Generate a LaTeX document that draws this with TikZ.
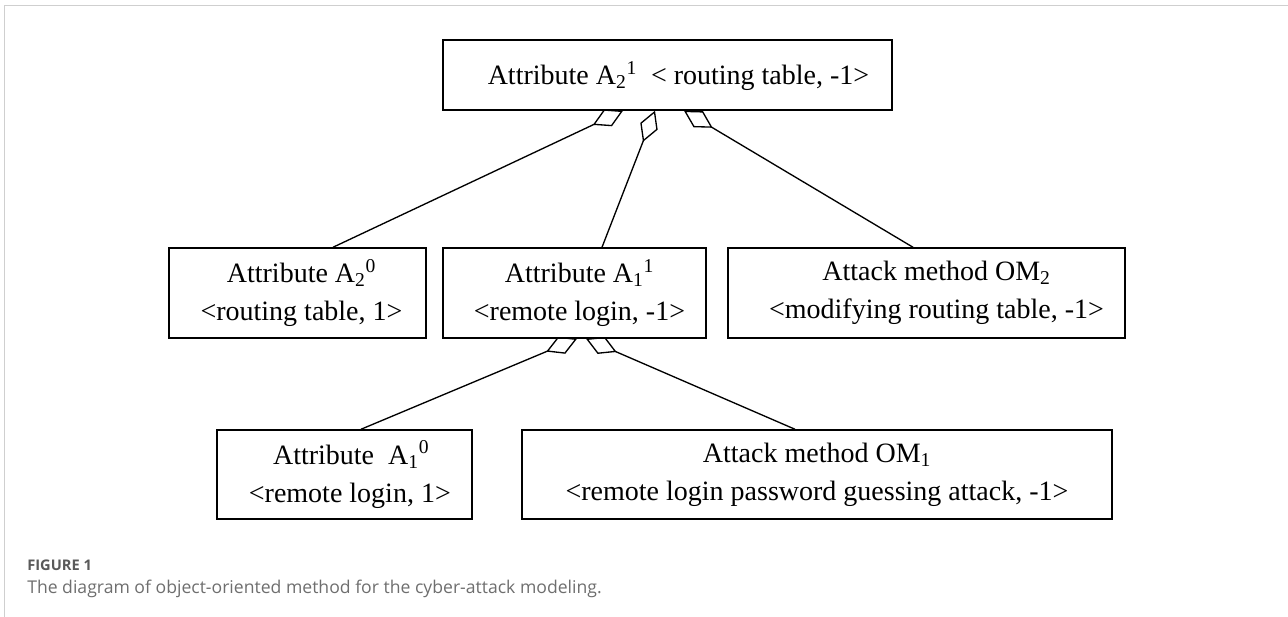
\documentclass[tikz,border=0pt]{standalone}
\usepackage{fontspec}
\setmainfont{Liberation Serif}
\newfontfamily\capfont{Open Sans}
\usetikzlibrary{arrows.meta}
\pgfdeclarelayer{back}
\pgfsetlayers{back,main}
\definecolor{framegray}{HTML}{CFCFCF}
\definecolor{capgray}{HTML}{5A5A5A}
\definecolor{captext}{HTML}{6E6E6E}
\tikzset{
  box/.style={draw, line width=1.1pt, fill=white, inner sep=0pt,
    align=center, font=\fontsize{21pt}{28.5pt}\selectfont},
  agg/.style={line width=1pt,
    -{Diamond[open, length=25pt, width=14pt]}},
}
\begin{document}
\begin{tikzpicture}[x=0.75pt, y=-0.75pt]
\useasboundingbox (0,0) rectangle (1288,617);

% page frame
\draw[framegray, line width=1.2pt] (4.5,617) -- (4.5,5.5) -- (1288,5.5);

% classes
\node[box, minimum width=336.75pt, minimum height=52.5pt,
      text height=14.3pt, text depth=0pt] (top) at (667.5,75)
  {\hspace*{16.5pt}Attribute A\textsubscript{2}\textsuperscript{1}\ \ {<} routing table, -1>};
\node[box, minimum width=192.75pt, minimum height=67.5pt] (a20) at (297.5,293)
  {\hspace*{6pt}Attribute A\textsubscript{2}\textsuperscript{0}\\\hspace*{6pt}<routing table, 1>};
\node[box, minimum width=197.25pt, minimum height=67.5pt] (a11) at (574.5,293)
  {\hspace*{7.5pt}Attribute A\textsubscript{1}\textsuperscript{1}\\\hspace*{7.5pt}<remote login, -1>};
\node[box, minimum width=297.75pt, minimum height=67.5pt] (om2) at (926.5,293)
  {\hspace*{15pt}Attack method OM\textsubscript{2}\\\hspace*{15pt}<modifying routing table, -1>};
\node[box, minimum width=191.25pt, minimum height=66.75pt] (a10) at (344.5,474.5)
  {\hspace*{10pt}Attribute\ \ A\textsubscript{1}\textsuperscript{0}\\\hspace*{8pt}<remote login, 1>};
\node[box, minimum width=442.5pt, minimum height=66.75pt] (om1) at (817,474.5)
  {Attack method OM\textsubscript{1}\\<remote login password guessing attack, -1>};

% aggregation links
\begin{pgfonlayer}{back}
\draw[agg] ([xshift=26.625pt]a20.north) -- ([xshift=-33.375pt]top.south);
\draw[agg] ([xshift=20.625pt]a11.north) -- ([xshift=-9.375pt]top.south);
\draw[agg] ([xshift=-10.125pt]om2.north) -- ([xshift=12.375pt]top.south);
\draw[agg] ([xshift=12.375pt]a10.north) -- ([xshift=1.875pt]a11.south);
\draw[agg] ([xshift=-16.5pt]om1.north) -- ([xshift=8.625pt]a11.south);
\end{pgfonlayer}

% caption
\node[anchor=west, inner sep=0pt, font=\capfont\bfseries\fontsize{11pt}{13pt}\selectfont, text=capgray]
  (figlabel) at (27,565) {FIGURE 1};
\node[anchor=west, inner sep=0pt, font=\capfont\fontsize{13.2pt}{16pt}\selectfont, text=captext]
  (figtext) at (27,589) {The diagram of object-oriented method for the cyber-attack modeling.};
\end{tikzpicture}
\end{document}
